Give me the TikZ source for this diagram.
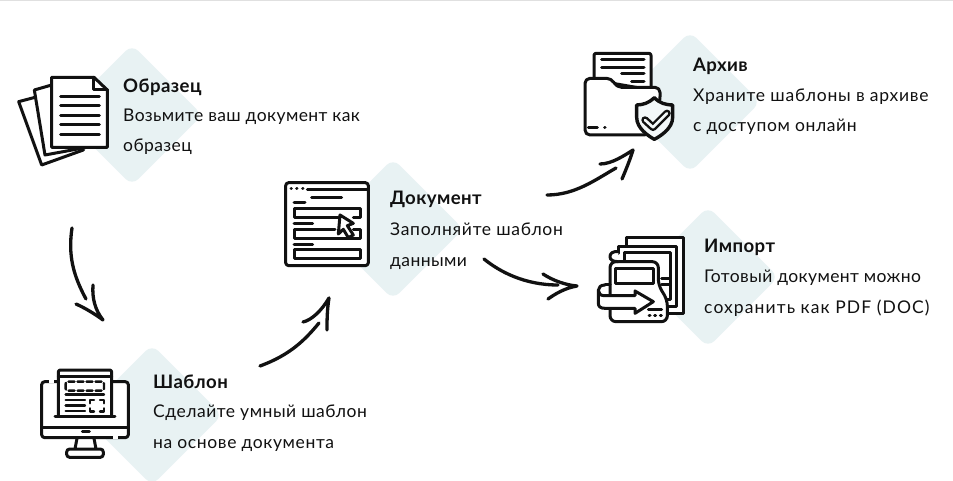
\documentclass[tikz,border=0pt]{standalone}
\usepackage{fontspec}
\setmainfont[LetterSpace=2.3]{Lato}
\usetikzlibrary{shapes.geometric}
\definecolor{dia}{HTML}{E8F2F3}
\definecolor{ink}{HTML}{111111}
\tikzset{
  x=1pt,y=-1pt,
  patch/.style={diamond,aspect=1,fill=dia,inner sep=0pt,minimum width=141pt,minimum height=141pt,rounded corners=9pt},
  ttl/.style={anchor=base west,inner sep=0pt,font=\fontsize{18.6pt}{20pt}\selectfont\bfseries,text=ink},
  body/.style={anchor=base west,inner sep=0pt,font=\fontsize{17.5pt}{20pt}\selectfont,text=ink},
  ico/.style={line width=3pt,draw=ink,line join=round,line cap=round},
  thin/.style={line width=2.4pt,draw=ink,line join=round,line cap=round},
  flow/.style={line width=3.3pt,draw=ink,line cap=round,line join=round},
  zoomed/.style={x=0.33333pt,y=-0.33333pt},
}
\begin{document}
\begin{tikzpicture}
\useasboundingbox (0,0) rectangle (953,481);
\fill[white] (0,0) rectangle (953,481);
\draw[line width=0.7pt,draw=black!12] (0,0.4) -- (953,0.4);
% backdrops
\node[patch] (d1) at (132,115) {};
\node[patch] (d2) at (152,415) {};
\node[patch] (d3) at (393,229) {};
\node[patch] (d4) at (690,102) {};
\node[patch] (d5) at (708,277) {};
% texts
\node[ttl]  (t1a) at (123,93) {Образец};
\node[body] (t1b) at (123,122) {Возьмите ваш документ как};
\node[body] (t1c) at (123,152) {образец};
\node[ttl]  (t2a) at (153,388) {Шаблон};
\node[body] (t2b) at (153,417) {\addfontfeature{LetterSpace=3}Сделайте умный шаблон};
\node[body] (t2c) at (153,448) {\addfontfeature{LetterSpace=3.5}на основе документа};
\node[ttl]  (t3a) at (390,205) {Документ};
\node[body] (t3b) at (390,236) {\addfontfeature{LetterSpace=4}Заполняйте шаблон};
\node[body] (t3c) at (390,266) {данными};
\node[ttl]  (t4a) at (693,72) {Архив};
\node[body] (t4b) at (693,102) {\addfontfeature{LetterSpace=4.4}Храните шаблоны в архиве};
\node[body] (t4c) at (693,132) {\addfontfeature{LetterSpace=3.5}с доступом онлайн};
\node[ttl]  (t5a) at (704,252) {Импорт};
\node[body] (t5b) at (704,282) {Готовый документ можно};
\node[body] (t5c) at (704,313) {\addfontfeature{LetterSpace=6.3}сохранить как PDF (DOC)};
% icon 1: pages
\begin{scope}[shift={(0,40)},zoomed]
\draw[ico,fill=white] (105,172) -- (56,185) -- (125,375) -- (250,330) -- (180,250) -- cycle;
\draw[ico,fill=white] (155,135) -- (103,150) -- (135,345) -- (260,322) -- (200,200) -- cycle;
\draw[ico,fill=white] (155,112) -- (282,112) -- (322,150) -- (322,322) -- (155,322) -- cycle;
\draw[ico] (282,112) -- (282,150) -- (322,150);
\foreach \yy in {170,198,226,254,283} \draw[ico] (182,\yy) -- (298,\yy);
\end{scope}
% icon 2: monitor
\begin{scope}[shift={(20,340)},zoomed]
\draw[ico,fill=white,rounded corners=3pt] (65,125) rectangle (325,293);
\draw[line width=3.4pt,white] (88,125) -- (103,125) (280,293) -- (295,293);
\draw[ico] (65,262) -- (325,262);
\draw[ico] (187,273) -- (208,273);
\draw[ico] (171,295) -- (165,327) (222,295) -- (228,327);
\draw[ico,fill=white,rounded corners=3pt] (140,327) rectangle (250,352);
\draw[ico,fill=white,rounded corners=2pt] (115,228) -- (115,90) -- (275,90) -- (275,228);
\draw[ico] (115,110) -- (275,110);
\draw[ico] (105,229) -- (285,229);
\draw[thin,dash pattern=on 6pt off 3pt,rounded corners=2pt] (137,125) rectangle (252,152);
\draw[thin] (137,164) -- (252,164);
\foreach \yy in {180,197,213} \draw[thin] (137,\yy) -- (195,\yy);
\draw[thin] (210,190) -- (210,180) -- (222,180) (240,180) -- (252,180) -- (252,190)
            (252,205) -- (252,215) -- (240,215) (222,215) -- (210,215) -- (210,205);
\end{scope}
% icon 3: form with cursor
\begin{scope}[shift={(270,160)},zoomed]
\draw[ico,fill=white,rounded corners=3pt] (47,68) rectangle (295,317);
\draw[ico] (112,88) -- (295,88);
\foreach \xx in {63,80,98} \draw[ico] (\xx,87) -- (\xx+1,87);
\draw[ico] (125,112) -- (215,112) (72,128) -- (105,128);
\draw[ico] (205,172) -- (72,172) -- (72,145) -- (270,145) -- (270,172) -- (250,172);
\draw[ico] (72,190) -- (128,190);
\draw[ico] (195,208) -- (72,208) -- (72,235) -- (270,235) -- (270,208) -- (250,208);
\draw[ico] (72,255) -- (128,255);
\draw[ico] (72,270) rectangle (270,297);
\draw[ico,fill=white] (210,165) -- (250,190) -- (232,197) -- (250,225) -- (235,233) -- (220,208) -- (205,222) -- cycle;
\end{scope}
% icon 4: folder with shield
\begin{scope}[shift={(570,30)},zoomed]
\draw[ico,fill=white,rounded corners=2pt] (72,150) -- (72,70) -- (243,70) -- (243,180) -- cycle;
\draw[ico] (95,90) -- (222,90) (95,112) -- (222,112) (155,132) -- (222,132) (185,155) -- (222,155);
\draw[ico,fill=white,rounded corners=5pt] (225,315) -- (45,315) -- (45,145) -- (125,145) -- (140,172) -- (270,172) -- (270,215) -- (225,315);
\draw[ico] (55,293) -- (82,293) (104,293) -- (105,293);
\draw[line width=3.4pt,draw=ink,fill=dia!50!white,line join=round] (253,203) .. controls (235,220) and (220,224) .. (200,225) -- (200,262) .. controls (200,295) and (235,318) .. (253,328) .. controls (272,318) and (308,295) .. (308,262) -- (308,225) .. controls (285,224) and (270,220) .. (253,203) -- cycle;
\draw[line width=7.5pt,draw=ink,line cap=round,line join=round] (225,270) -- (249,292) -- (291,250);
\draw[line width=2.6pt,draw=dia!50!white,line cap=round,line join=round] (225,270) -- (249,292) -- (291,250);
\end{scope}
% icon 5: import scroll
\begin{scope}[shift={(580,205)},zoomed]
\fill[white] (138,97) rectangle (310,325);
\draw[ico] (138,125) -- (138,97) -- (310,97) -- (310,325) -- (255,325);
\draw[ico,fill=white] (115,145) -- (115,125) -- (290,125) -- (290,305) -- (255,305);
\draw[ico] (132,165) -- (132,142) -- (270,142) -- (270,285) -- (255,285);
\draw[ico] (245,222) -- (270,222) (245,240) -- (270,240);
\draw[ico,fill=white,rounded corners=6pt] (90,170) -- (235,170) -- (235,240) -- (262,285) -- (262,350) -- (90,350) -- cycle;
\draw[ico,fill=white] (115,140) .. controls (97,138) and (90,146) .. (90,155) .. controls (90,164) and (97,170) .. (115,170);
\draw[ico,fill=white] (105,190) rectangle (220,235);
\draw[ico,fill=white] (75,240) .. controls (62,240) and (55,247) .. (55,256) -- (55,295) .. controls (55,305) and (62,310) .. (75,310) -- (165,310) -- (165,325) -- (220,290) -- (165,258) -- (165,272) -- (72,272) .. controls (62,272) and (55,265) .. (55,256);
\draw[ico] (75,240) -- (90,240);
\draw[ico] (205,315) -- (245,315);
\foreach \xx in {207,224,241} \draw[ico] (\xx,332) -- (\xx+3,332);
\end{scope}
% connectors
\coordinate (a1s) at (72,228);
\coordinate (a1e) at (103,320);
\coordinate (a2s) at (260,366);
\coordinate (a2e) at (329,298);
\coordinate (a3s) at (547,195);
\coordinate (a3e) at (633,150);
\coordinate (a4s) at (484,259);
\coordinate (a4e) at (577,286);
\draw[flow] (a1s) .. controls (68,255) and (73,275) .. (86,299);
\draw[flow] (93,285) .. controls (92,298) and (95,310) .. (a1e) .. controls (95,314) and (85,308) .. (76,304);
\draw[flow] (a2s) .. controls (290,355) and (305,340) .. (319,323);
\draw[flow] (303,322) .. controls (312,320) and (322,310) .. (a2e) .. controls (327,310) and (327,322) .. (327,330);
\draw[flow] (a3s) .. controls (575,195) and (595,180) .. (616,168);
\draw[flow] (600,164) .. controls (612,164) and (625,155) .. (a3e) .. controls (630,160) and (625,172) .. (622,179);
\draw[flow] (a4s) .. controls (500,272) and (525,285) .. (558,285);
\draw[flow] (543,274) .. controls (552,280) and (565,285) .. (a4e) .. controls (565,288) and (555,294) .. (548,299);
\end{tikzpicture}
\end{document}
